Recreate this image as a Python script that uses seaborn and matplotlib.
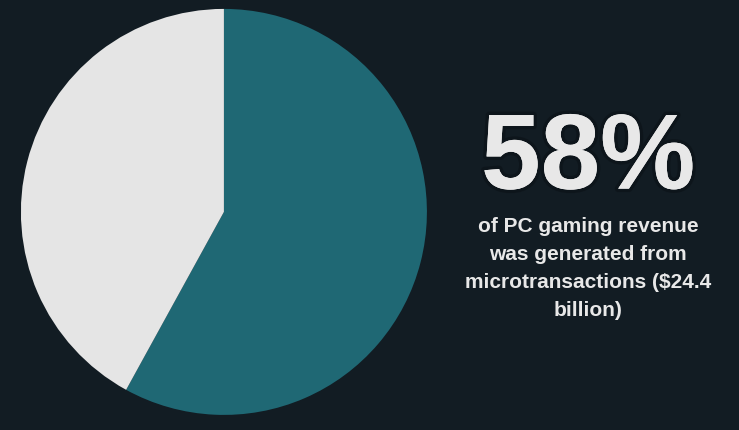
import matplotlib.pyplot as plt
import matplotlib.patheffects as pe
import seaborn as sns

# Data
labels = ['Microtransactions', 'Other']
shares = [58, 42]
colors = ['#1f6874', '#e5e5e5']
headline = '58%'
caption = 'of PC gaming revenue\nwas generated from\nmicrotransactions ($24.4\nbillion)'

bg = '#121c23'
sns.set_theme(style='white', rc={'figure.facecolor': bg, 'axes.facecolor': bg})
plt.rcParams['font.family'] = ['Liberation Sans', 'DejaVu Sans']

fig = plt.figure(figsize=(7.39, 4.31), dpi=100)
ax = fig.add_axes([0.027, 0.035, 0.552, 0.942])
ax.pie(shares, colors=colors, startangle=90, counterclock=False,
       wedgeprops={'linewidth': 0})
ax.set_xlim(-1, 1)
ax.set_ylim(-1, 1)
ax.set_aspect('equal')
ax.axis('off')

glow = [pe.withStroke(linewidth=5, foreground='#0b1116', alpha=0.6), pe.Normal()]
fig.text(0.796, 0.625, headline, ha='center', va='center', fontsize=77,
         fontweight='bold', color='#e8e8e8', path_effects=glow)
fig.text(0.796, 0.377, caption, ha='center', va='center', fontsize=15,
         fontweight='bold', color='#e8e8e8', linespacing=1.58)

fig.savefig('out.png', dpi=100, facecolor=bg)
